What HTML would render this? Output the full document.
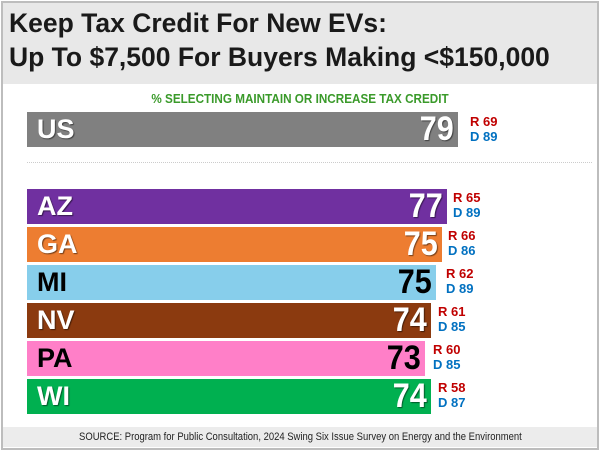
<!DOCTYPE html>
<html><head><meta charset="utf-8"><style>
body{margin:0;width:600px;height:450px;background:#fff;position:relative;overflow:hidden;font-family:"Liberation Sans",sans-serif}
.frame{position:absolute;left:1px;top:1px;width:594px;height:445px;border:2px solid #bdbdbd}
.hdr{position:absolute;left:3px;top:3px;width:594px;height:81px;background:#e8e8e8}
.t{position:absolute;left:9px;font-size:26.5px;font-weight:bold;color:#1a1a1a;white-space:nowrap;letter-spacing:0px}
.sub{position:absolute;left:0;width:600px;top:91px;text-align:center;font-size:13px;font-weight:bold;color:#3a9a2a;transform:scaleX(0.9)}
.bar{position:absolute;left:27px;height:35px}
.lab{position:absolute;left:10px;top:2px;font-size:27px;font-weight:bold;line-height:31px}
.val{position:absolute;right:4px;top:0px;font-size:34px;font-weight:bold;line-height:35px;transform:scaleX(0.9);transform-origin:right}
.rd{position:absolute;font-size:13px;font-weight:bold;line-height:15px}
.rd .r{color:#c00000}.rd .d{color:#0070c0}
.w{color:#fff;text-shadow:1px 1px 1px rgba(0,0,0,.5)}
.b{color:#000}
.dots{position:absolute;left:27px;width:565px;top:162px;border-top:1px dotted #ccc}
.ftr{position:absolute;left:3px;top:427px;width:594px;height:20px;background:#ececec;text-align:center;font-size:11px;line-height:20px;color:#222}
.ftr span{display:inline-block;transform:scaleX(0.86)}
</style></head><body>
<div class="hdr"></div>
<div class="frame"></div>
<div class="t" style="top:8px">Keep Tax Credit For New EVs:</div>
<div class="t" style="top:42px">Up To $7,500 For Buyers Making &lt;$150,000</div>
<div class="sub">% SELECTING MAINTAIN OR INCREASE TAX CREDIT</div>

<div class="bar" style="top:112px;width:431px;background:#808080"><span class="lab w">US</span><span class="val w">79</span></div>
<div class="rd" style="left:470px;top:114px"><div class="r">R 69</div><div class="d">D 89</div></div>
<div class="dots"></div>

<div class="bar" style="top:189px;width:420px;background:#7030a0"><span class="lab w">AZ</span><span class="val w">77</span></div>
<div class="rd" style="left:453px;top:190px"><div class="r">R 65</div><div class="d">D 89</div></div>

<div class="bar" style="top:227px;width:415px;background:#ed7d31"><span class="lab w">GA</span><span class="val w">75</span></div>
<div class="rd" style="left:448px;top:228px"><div class="r">R 66</div><div class="d">D 86</div></div>

<div class="bar" style="top:265px;width:409px;background:#87ceeb"><span class="lab b">MI</span><span class="val b">75</span></div>
<div class="rd" style="left:446px;top:266px"><div class="r">R 62</div><div class="d">D 89</div></div>

<div class="bar" style="top:303px;width:404px;background:#8b3a0f"><span class="lab w">NV</span><span class="val w">74</span></div>
<div class="rd" style="left:438px;top:304px"><div class="r">R 61</div><div class="d">D 85</div></div>

<div class="bar" style="top:341px;width:398px;background:#ff7fc8"><span class="lab b">PA</span><span class="val b">73</span></div>
<div class="rd" style="left:433px;top:342px"><div class="r">R 60</div><div class="d">D 85</div></div>

<div class="bar" style="top:379px;width:404px;background:#00b050"><span class="lab w">WI</span><span class="val w">74</span></div>
<div class="rd" style="left:438px;top:380px"><div class="r">R 58</div><div class="d">D 87</div></div>

<div class="ftr"><span>SOURCE: Program for Public Consultation, 2024 Swing Six Issue Survey on Energy and the Environment</span></div>
</body></html>
